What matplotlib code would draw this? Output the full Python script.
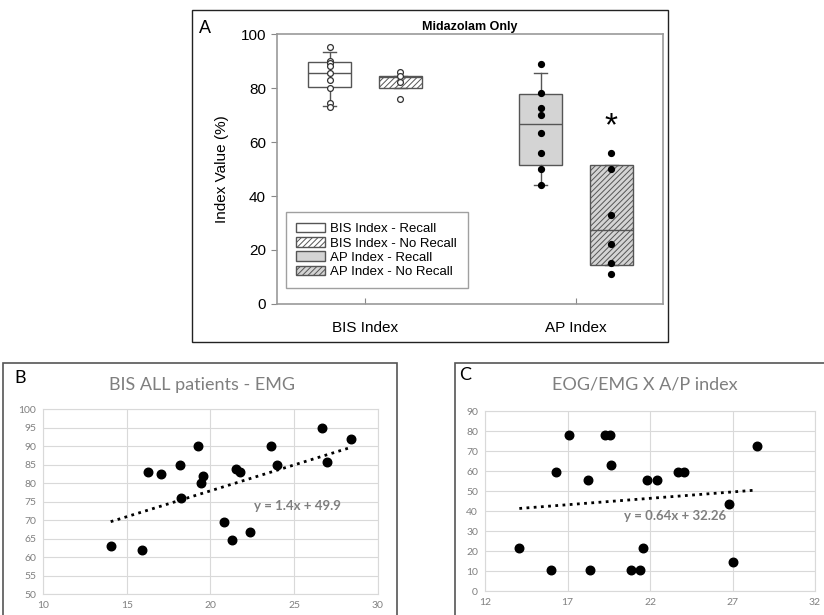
import matplotlib.pyplot as plt
from matplotlib.patches import Patch, Rectangle
import numpy as np

# ---- Panel A data (box summaries + individual points) ----
groups = ['BIS Index - Recall', 'BIS Index - No Recall', 'AP Index - Recall', 'AP Index - No Recall']
categories = ['BIS Index', 'AP Index']
box_q1 = [80.3, 80.0, 51.3, 14.3]
box_med = [85.5, 84.0, 66.7, 27.4]
box_q3 = [89.5, 84.3, 77.7, 51.3]
whisk_lo = [73.3, 80.0, 43.9, 14.3]
whisk_hi = [93.3, 84.3, 85.6, 51.3]
pts_bis_recall = [95.1, 90.0, 89.1, 88.2, 85.7, 83.0, 80.1, 74.4, 73.1]
pts_bis_norecall = [86.1, 84.3, 82.4, 76.0]
pts_ap_recall = [89.0, 78.0, 72.6, 70.0, 63.4, 55.9, 49.9, 43.9]
pts_ap_norecall = [56.0, 49.9, 32.9, 22.1, 15.3, 11.0]

# ---- Panel B data ----
emg_b = [14.04, 15.93, 16.29, 17.02, 18.18, 18.26, 19.25, 19.45, 19.57, 20.81,
         21.30, 21.54, 21.74, 22.36, 23.63, 23.99, 26.68, 26.96, 28.37]
bis_b = [63.0, 62.0, 82.9, 82.4, 84.8, 75.9, 89.9, 80.0, 82.0, 69.6,
         64.5, 83.8, 82.9, 66.9, 89.9, 84.8, 94.8, 85.7, 91.9]
slope_b, icpt_b = 1.4, 49.9

# ---- Panel C data ----
emg_c = [14.08, 16.01, 16.33, 17.10, 18.25, 18.35, 19.30, 19.60, 19.64, 20.87,
         21.38, 21.58, 21.84, 22.40, 23.67, 24.08, 26.78, 27.00, 28.47]
ap_c = [21.5, 10.3, 59.5, 77.8, 55.3, 10.3, 77.8, 77.8, 63.0, 10.3,
        10.3, 21.5, 55.3, 55.3, 59.5, 59.5, 43.3, 14.7, 72.3]
slope_c, icpt_c = 0.64, 32.26

plt.rcParams['hatch.color'] = '#555555'
plt.rcParams['hatch.linewidth'] = 0.7

fig = plt.figure(figsize=(8.24, 6.15), dpi=100)

# outer frames
fig.add_artist(Rectangle((0.2330, 0.4439), 0.5777, 0.5398, transform=fig.transFigure,
                         fill=False, edgecolor='#222222', linewidth=1.0))
fig.add_artist(Rectangle((0.0036, -0.01), 0.4782, 0.4198, transform=fig.transFigure,
                         fill=False, edgecolor='#555555', linewidth=1.2))
fig.add_artist(Rectangle((0.5522, -0.01), 0.46, 0.4198, transform=fig.transFigure,
                         fill=False, edgecolor='#555555', linewidth=1.2))

# ================= Panel A =================
axA = fig.add_axes([0.3362, 0.5057, 0.4684, 0.4390])
afont = 'Liberation Sans'
off = 0.167
positions = [1 - off, 1 + off, 2 - off, 2 + off]
stats = [dict(q1=box_q1[i], med=box_med[i], q3=box_q3[i], whislo=whisk_lo[i],
              whishi=whisk_hi[i], fliers=[]) for i in range(4)]
bp = axA.bxp(stats, positions=positions, widths=0.204, capwidths=0.062,
             patch_artist=True, manage_ticks=False,
             boxprops=dict(edgecolor='#555555', linewidth=1.0),
             medianprops=dict(color='#555555', linewidth=1.0),
             whiskerprops=dict(color='#555555', linewidth=1.0),
             capprops=dict(color='#555555', linewidth=1.0))
faces = ['white', 'white', '#d4d4d4', '#d4d4d4']
hatches = [None, '//////', None, '//////']
for patch, fc, h in zip(bp['boxes'], faces, hatches):
    patch.set_facecolor(fc)
    if h:
        patch.set_hatch(h)

point_sets = [pts_bis_recall, pts_bis_norecall, pts_ap_recall, pts_ap_norecall]
for i, pts in enumerate(point_sets):
    if i < 2:
        axA.plot([positions[i]] * len(pts), pts, 'o', ms=4.2, mfc='white',
                 mec='#333333', mew=0.9, zorder=5)
    else:
        axA.plot([positions[i]] * len(pts), pts, 'o', ms=4.2, mfc='black',
                 mec='black', zorder=5)

axA.text(positions[3], 65.7, '*', ha='center', va='center', fontsize=24,
         fontfamily=afont)

axA.set_xlim(0.583, 2.412)
axA.set_ylim(0, 100)
axA.set_yticks(np.arange(0, 101, 20))
axA.set_xticks([1, 2])
axA.set_xticklabels(categories, fontfamily=afont, fontsize=11)
for lab in axA.get_yticklabels():
    lab.set_fontfamily(afont)
    lab.set_fontsize(11)
axA.tick_params(axis='y', direction='out', length=4, color='#888888', pad=4)
axA.tick_params(axis='x', direction='in', length=4, color='#888888', pad=12)
for sp in axA.spines.values():
    sp.set_color('#999999')
    sp.set_linewidth(1.2)
axA.set_ylabel('Index Value (%)', fontfamily=afont, fontsize=11, labelpad=8)
axA.set_title('Midazolam Only', fontfamily=afont, fontsize=9, fontweight='bold',
              pad=3)

handles = [Patch(facecolor=faces[i], edgecolor='#555555', hatch=hatches[i],
                 label=groups[i]) for i in range(4)]
leg = axA.legend(handles=handles, loc='lower left', bbox_to_anchor=(0.005, 0.033),
                 frameon=True, fancybox=False, edgecolor='#888888',
                 prop=dict(family=afont, size=9.5), handlelength=2.2,
                 handleheight=0.7, handletextpad=0.4, labelspacing=0.15,
                 borderpad=0.8)
leg.get_frame().set_linewidth(1.0)
fig.text(0.249, 0.954, 'A', fontfamily=afont, fontsize=13, ha='center', va='center')

# ================= Panels B and C (Excel style) =================
efont = 'Lato'


def excel_scatter(ax, x, y, slope, icpt, xlim, xticks, ylim, yticks, eq, eq_xy):
    ax.set_axisbelow(True)
    ax.grid(True, color='#d9d9d9', linewidth=0.8)
    ax.scatter(x, y, s=38, color='black', zorder=3)
    xs = np.array([min(x), max(x)])
    ax.plot(xs, slope * xs + icpt, color='black', linestyle=(0, (1, 1.6)),
            linewidth=2.0, zorder=2)
    ax.set_xlim(*xlim)
    ax.set_ylim(*ylim)
    ax.set_xticks(xticks)
    ax.set_yticks(yticks)
    ax.tick_params(length=0, labelsize=7.5, labelcolor='#808080', pad=5)
    for lab in ax.get_xticklabels() + ax.get_yticklabels():
        lab.set_fontfamily(efont)
    for sp in ax.spines.values():
        sp.set_color('#d9d9d9')
        sp.set_linewidth(0.8)
    ax.text(eq_xy[0], eq_xy[1], eq, ha='center', va='center', fontsize=9.5,
            color='#7f7f7f', fontweight='bold', fontfamily=efont)


axB = fig.add_axes([0.0522, 0.0341, 0.4065, 0.3008])
excel_scatter(axB, emg_b, bis_b, slope_b, icpt_b, (10, 30), np.arange(10, 31, 5),
              (50, 100), np.arange(50, 101, 5), 'y = 1.4x + 49.9', (25.2, 73.9))
fig.text(0.245, 0.374, 'BIS ALL patients - EMG', fontfamily=efont, fontsize=13,
         color='#7f7f7f', ha='center', va='center')
fig.text(0.024, 0.385, 'B', fontfamily=efont, fontsize=13, ha='center', va='center')

axC = fig.add_axes([0.5886, 0.0390, 0.4005, 0.2927])
excel_scatter(axC, emg_c, ap_c, slope_c, icpt_c, (12, 32), np.arange(12, 33, 5),
              (0, 90), np.arange(0, 91, 10), 'y = 0.64x + 32.26', (23.5, 37.3))
fig.text(0.783, 0.374, 'EOG/EMG X A/P index', fontfamily=efont, fontsize=13,
         color='#7f7f7f', ha='center', va='center')
fig.text(0.564, 0.390, 'C', fontfamily=efont, fontsize=13, ha='center', va='center')

fig.savefig('out.png', dpi=100)
